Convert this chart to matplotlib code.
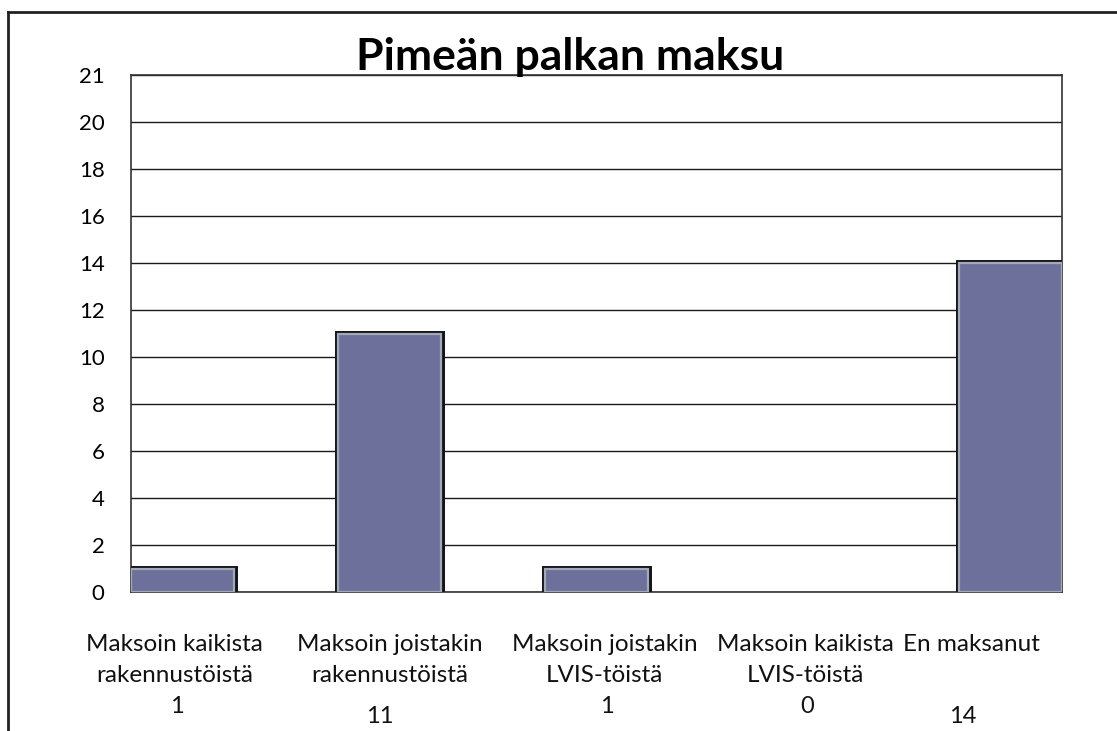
import matplotlib
matplotlib.use("Agg")
from matplotlib import pyplot as plt
from matplotlib import patheffects as pe
from matplotlib.lines import Line2D
from matplotlib.transforms import blended_transform_factory

# data
categories = ["Maksoin kaikista\nrakennustöistä", "Maksoin joistakin\nrakennustöistä",
              "Maksoin joistakin\nLVIS-töistä", "Maksoin kaikista\nLVIS-töistä", "En maksanut"]
values = [1, 11, 1, 0, 14]
value_labels = ["1", "11", "1", "0", "14"]
ytick_vals = [0, 2, 4, 6, 8, 10, 12, 14, 16, 18, 20, 22]
ytick_labels = ["0", "2", "4", "6", "8", "10", "12", "14", "16", "18", "20", "21"]
title = "Pimeän palkan maksu"

# small horizontal nudges of the text under the bars (data units)
cat_dx = [-0.04, 0.0, 0.04, 0.01, -0.19]
val_dx = [-0.03, -0.05, 0.05, 0.02, -0.23]
val_y = [0.034, 0.020, 0.034, 0.034, 0.020]

plt.rcParams["font.family"] = ["Lato", "DejaVu Sans"]

def main():
    fig = plt.figure(figsize=(11.17, 7.31), dpi=100)
    ax = fig.add_axes([131/1117, 139/731, 931/1117, 517/731])

    x = list(range(len(categories)))
    bars = ax.bar(x, values, width=0.5, color="#6E709C", edgecolor="#A3AAB3",
                  linewidth=1.6, zorder=3)
    for b, v in zip(bars, values):
        b.set_path_effects([pe.Stroke(linewidth=5, foreground="#10131a"), pe.Normal()])
        if v == 0:
            b.set_visible(False)

    ax.set_xlim(-0.25, 4.25)
    ax.set_ylim(0, 22)
    ax.set_yticks(ytick_vals)
    ax.set_yticklabels(ytick_labels, fontsize=16)
    ax.set_xticks([])
    ax.tick_params(axis="y", length=0, pad=19)
    ax.yaxis.grid(True, color="#1a1a1a", linewidth=1.0, zorder=0)
    ax.set_axisbelow(True)
    for s in ax.spines.values():
        s.set_color("#333333")
        s.set_linewidth(1.2)

    # category labels and counts under the chart
    tr = blended_transform_factory(ax.transData, fig.transFigure)
    for i, lab in enumerate(categories):
        ax.text(i + cat_dx[i], 1 - 634/731, lab, transform=tr, ha="center", va="top",
                fontsize=17.5, linespacing=1.6, color="#111111")
        ax.text(i + val_dx[i], val_y[i], value_labels[i], transform=tr, ha="center",
                va="center", fontsize=17, color="#111111")

    fig.text(570/1117, 1 - 57/731, title, ha="center", va="center",
             fontsize=32, fontweight="bold", color="black")

    # outer frame (top and left edge)
    fx = 8/1117
    fy = 1 - 12/731
    fig.add_artist(Line2D([fx, 1], [fy, fy], transform=fig.transFigure, color="#222222", lw=2))
    fig.add_artist(Line2D([fx, fx], [0, fy], transform=fig.transFigure, color="#222222", lw=2))

    fig.savefig("out.png", dpi=100)
    return

main()
